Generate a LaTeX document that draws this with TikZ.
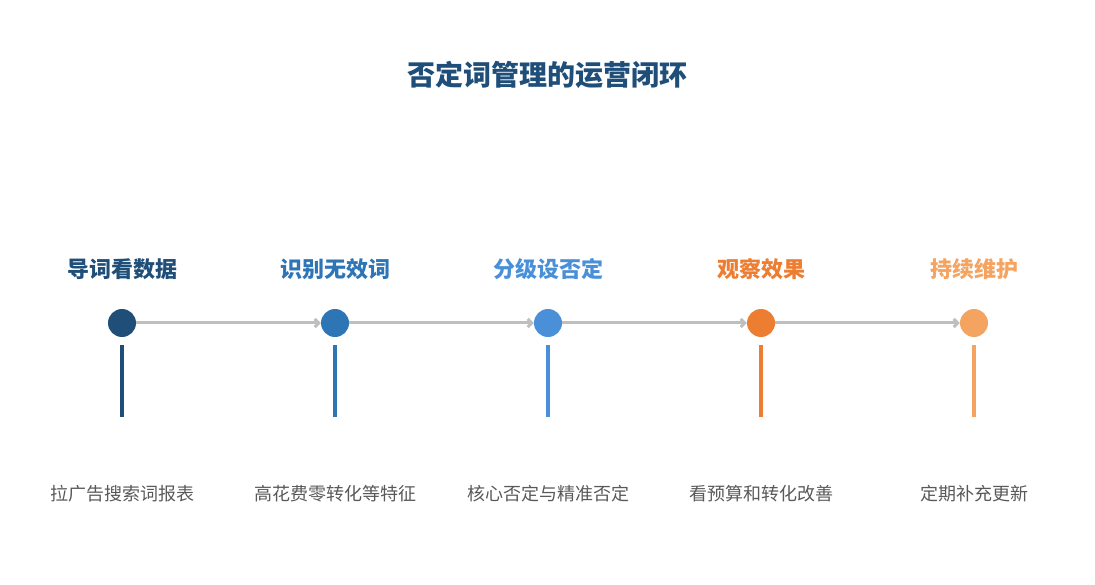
\documentclass[tikz,border=0pt]{standalone}
\usepackage{fontspec}
\setmainfont{Noto Sans CJK SC}
\usetikzlibrary{arrows.meta}
\definecolor{stepA}{HTML}{1F4E79}
\definecolor{stepB}{HTML}{2E75B6}
\definecolor{stepC}{HTML}{4A90D9}
\definecolor{stepD}{HTML}{ED7D31}
\definecolor{stepE}{HTML}{F4A460}
\definecolor{linkgray}{HTML}{BFBFBF}
\definecolor{descgray}{HTML}{595959}
\tikzset{
  dot/.style={circle, fill=#1, minimum size=28pt, inner sep=0pt},
  head/.style={font=\bfseries\fontsize{22}{26}\selectfont, text=#1},
  desc/.style={font=\fontsize{18}{22}\selectfont, text=descgray},
  stem/.style={line width=3.5pt, draw=#1},
  link/.style={draw=linkgray, line width=3pt, -{Straight Barb[length=4pt,width=8pt]}}
}
\begin{document}
\begin{tikzpicture}[x=1pt, y=-1pt]
  \useasboundingbox (0,0) rectangle (1095,585);

  \node (title) [font=\bfseries\fontsize{28}{32}\selectfont, text=stepA] at (547,75) {否定词管理的运营闭环};

  \foreach \n/\x/\c/\h/\d in {1/122/stepA/导词看数据/拉广告搜索词报表,
                             2/335/stepB/识别无效词/高花费零转化等特征,
                             3/548/stepC/分级设否定/核心否定与精准否定,
                             4/761/stepD/观察效果/看预算和转化改善,
                             5/974/stepE/持续维护/定期补充更新} {
    \node (h\n) [head=\c] at (\x,269) {\h};
    \node (p\n) [dot=\c] at (\x,323) {};
    \coordinate (s\n) at (\x,345);
    \coordinate (e\n) at (\x,417);
    \draw[stem=\c] (s\n) -- (e\n);
    \node (d\n) [desc] at (\x,494) {\d};
  }

  \draw[link] (p1) -- (p2);
  \draw[link] (p2) -- (p3);
  \draw[link] (p3) -- (p4);
  \draw[link] (p4) -- (p5);
\end{tikzpicture}
\end{document}
